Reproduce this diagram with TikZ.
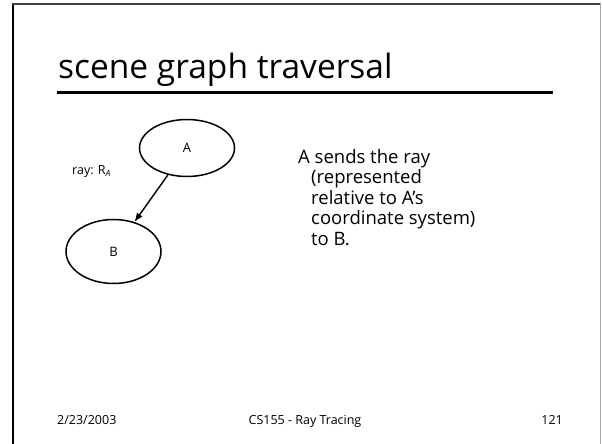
\documentclass[tikz,border=0pt]{standalone}
\usepackage{fontspec}
\setmainfont{Open Sans}
\usetikzlibrary{shapes.geometric,arrows.meta}
\begin{document}
\begin{tikzpicture}[x=1pt,y=-1pt,
  frame/.style={line width=#1,line cap=rect},
  gnode/.style={ellipse,draw,line width=1.5pt,minimum width=95pt,minimum height=57pt,inner sep=0pt,
                font=\fontsize{13}{15}\selectfont},
  link/.style={line width=1.4pt,-{Latex[length=9pt,width=7pt]}},
  footer/.style={font=\fontsize{12.5}{14}\selectfont,inner sep=0pt}]
  \useasboundingbox (0,0) rectangle (602,444);
  % slide frame
  \draw[frame=2.5pt,black] (13,444) -- (13,4);
  \draw[frame=2pt,black!75] (13,4) -- (600,4);
  \draw[frame=1pt,black!35] (600,4) -- (600,444);
  % title and rule
  \node[anchor=base west,inner sep=0pt,font=\fontsize{33.5}{36}\selectfont] (title) at (58,78) {scene graph traversal};
  \draw[line width=3pt] (57,92) -- (553,92);
  % graph
  \node[gnode] (A) at (187,148) {A};
  \node[gnode,minimum height=64pt] (B) at (113.5,251.5) {B};
  \draw[link] (A) -- (B);
  \node[anchor=base west,inner sep=0pt,font=\fontsize{12.5}{14}\selectfont] (ray) at (72,174)
    {ray: R\raisebox{-0.35ex}{\fontsize{8.5}{9}\selectfont\itshape A}};
  % explanation
  \node[anchor=north west,inner sep=0pt,align=left,font=\fontsize{18.5}{20.5}\selectfont] (txt) at (298,149)
    {A sends the ray\\
     \hspace*{13pt}(represented\\
     \hspace*{13pt}relative to A’s\\
     \hspace*{13pt}coordinate system)\\
     \hspace*{13pt}to B.};
  % footer
  \node[footer,anchor=base west] (date) at (57,424) {2/23/2003};
  \node[footer,anchor=base] (course) at (305,424) {CS155 - Ray Tracing};
  \node[footer,anchor=base east] (page) at (563,424) {121};
\end{tikzpicture}
\end{document}
